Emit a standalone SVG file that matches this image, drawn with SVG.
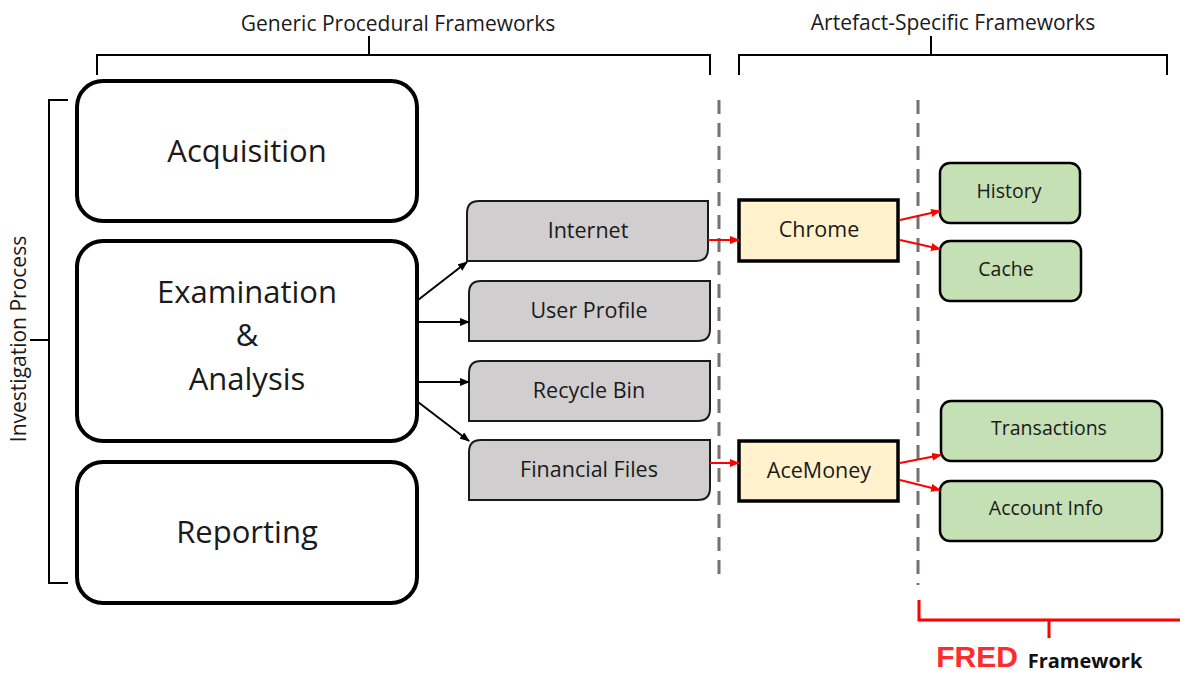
<svg xmlns="http://www.w3.org/2000/svg" width="1180" height="675" viewBox="0 0 1180 675">
<style>
text{font-family:"Open Sans","Liberation Sans",sans-serif;fill:#1a1a1a}
.big{fill:#fff;stroke:#000;stroke-width:4}
.gray{fill:#d0cece;stroke:#1a1a1a;stroke-width:2}
.app{fill:#fff2cc;stroke:#000;stroke-width:3.5}
.grn{fill:#c5e0b4;stroke:#000;stroke-width:2.5}
.br{fill:none;stroke:#000;stroke-width:2}
.dash{stroke:#767171;stroke-width:3;stroke-dasharray:14,9}
.ba{stroke:#000;stroke-width:2;fill:none;marker-end:url(#ab)}
.ra{stroke:#ff0000;stroke-width:2;fill:none;marker-end:url(#ar)}
.t1{font-size:31px;text-anchor:middle}
.t2{font-size:21.5px;text-anchor:middle}
.t3{font-size:19.5px;text-anchor:middle}
</style>
<defs>
<marker id="ab" markerWidth="10" markerHeight="8" refX="9" refY="4" orient="auto" markerUnits="userSpaceOnUse"><path d="M0,0 L10,4 L0,8 Z" fill="#000"/></marker>
<marker id="ar" markerWidth="10" markerHeight="8" refX="9" refY="4" orient="auto" markerUnits="userSpaceOnUse"><path d="M0,0 L10,4 L0,8 Z" fill="#ff0000"/></marker>
</defs>
<g id="brackets">
<path class="br" d="M97,75 V55 H710 V75 M369,55 V36"/>
<text x="398" y="31" font-size="21" text-anchor="middle">Generic Procedural Frameworks</text>
<path class="br" d="M739,75 V55 H1167 V75 M931,55 V36"/>
<text x="953" y="30" font-size="21" text-anchor="middle">Artefact-Specific Frameworks</text>
<path class="br" d="M68,100 H49 V583 H68 M49,340 H30"/>
<text x="26" y="339" font-size="21" text-anchor="middle" transform="rotate(-90 26 339)">Investigation Process</text>
<path fill="none" stroke="#ff0000" stroke-width="3" d="M919,600 V620 H1180 M1049,620 V638"/>
<text x="977" y="667" font-size="30" font-weight="bold" text-anchor="middle" style="fill:#ff2a2a;font-family:'Liberation Sans',sans-serif">FRED</text>
<text x="1085" y="668" font-size="20" font-weight="bold" text-anchor="middle" style="fill:#111">Framework</text>
</g>
<g id="dividers">
<line class="dash" x1="719" y1="100" x2="719" y2="582"/>
<line class="dash" x1="918" y1="100" x2="918" y2="585"/>
</g>
<g id="acquisition"><rect class="big" x="77" y="81" width="340" height="140" rx="26"/><text class="t1" x="247" y="162">Acquisition</text></g>
<g id="examination"><rect class="big" x="77" y="241" width="340" height="200" rx="26"/><text class="t1" x="247" y="303">Examination</text><text class="t1" x="247" y="346">&amp;</text><text class="t1" x="247" y="390">Analysis</text></g>
<g id="reporting"><rect class="big" x="77" y="462" width="340" height="141" rx="26"/><text class="t1" x="247" y="543">Reporting</text></g>
<g id="internet"><path class="gray" d="M479,201 H708 V249 Q708,261 696,261 H467 V213 Q467,201 479,201 Z"/><text class="t2" x="588" y="238">Internet</text></g>
<g id="userprofile"><path class="gray" d="M481,281 H710 V329 Q710,341 698,341 H469 V293 Q469,281 481,281 Z"/><text class="t2" x="589" y="318">User Profile</text></g>
<g id="recyclebin"><path class="gray" d="M481,361 H710 V409 Q710,421 698,421 H469 V373 Q469,361 481,361 Z"/><text class="t2" x="589" y="398">Recycle Bin</text></g>
<g id="financialfiles"><path class="gray" d="M481,440 H710 V488 Q710,500 698,500 H469 V452 Q469,440 481,440 Z"/><text class="t2" x="589" y="477">Financial Files</text></g>
<g id="chrome"><rect class="app" x="739" y="200" width="159" height="61"/><text class="t2" x="819" y="237">Chrome</text></g>
<g id="acemoney"><rect class="app" x="739" y="441" width="159" height="60"/><text class="t2" x="819" y="478">AceMoney</text></g>
<g id="history"><rect class="grn" x="940" y="163" width="140" height="60" rx="10"/><text class="t3" x="1009" y="198">History</text></g>
<g id="cache"><rect class="grn" x="940" y="241" width="141" height="60" rx="10"/><text class="t3" x="1006" y="276">Cache</text></g>
<g id="transactions"><rect class="grn" x="941" y="401" width="221" height="60" rx="10"/><text class="t3" x="1049" y="435">Transactions</text></g>
<g id="accountinfo"><rect class="grn" x="940" y="481" width="222" height="60" rx="10"/><text class="t3" x="1046" y="515">Account Info</text></g>
<g id="connectors">
<line class="ba" x1="418" y1="300" x2="467" y2="262"/>
<line class="ba" x1="418" y1="322" x2="469" y2="322"/>
<line class="ba" x1="418" y1="382" x2="469" y2="382"/>
<line class="ba" x1="418" y1="402" x2="469" y2="441"/>
<line class="ra" x1="708" y1="240" x2="739" y2="240"/>
<line class="ra" x1="710" y1="463" x2="739" y2="463"/>
<line class="ra" x1="900" y1="220" x2="940" y2="211"/>
<line class="ra" x1="900" y1="240" x2="940" y2="249"/>
<line class="ra" x1="900" y1="463" x2="941" y2="455"/>
<line class="ra" x1="900" y1="480" x2="940" y2="490"/>
</g>
</svg>
